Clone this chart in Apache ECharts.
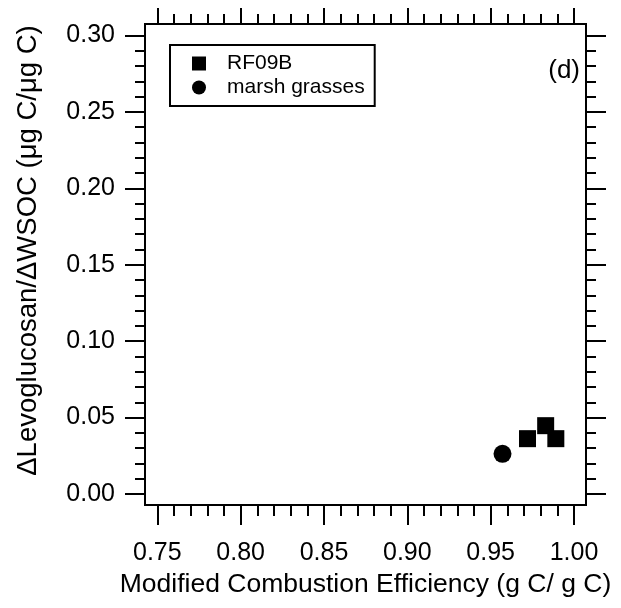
<!DOCTYPE html>
<html>
<head>
<meta charset="utf-8">
<script src="https://cdn.jsdelivr.net/npm/echarts@6/dist/echarts.min.js"></script>
<style>
  html, body { margin: 0; padding: 0; background: #fff; }
  #chart { width: 621px; height: 608px; }
</style>
</head>
<body>
<div id="chart"></div>
<script>
// data
const rf09bMce = [0.9721, 0.9830, 0.9891];
const rf09bRatio = [0.0362, 0.0447, 0.0362];
const marshMce = [0.9571];
const marshRatio = [0.0263];

// ticks
const xMajor = [0.75, 0.80, 0.85, 0.90, 0.95, 1.00];
const xMinor = [0.76, 0.77, 0.78, 0.79, 0.81, 0.82, 0.83, 0.84, 0.86, 0.87, 0.88, 0.89,
  0.91, 0.92, 0.93, 0.94, 0.96, 0.97, 0.98, 0.99];
const yMajor = [0.00, 0.05, 0.10, 0.15, 0.20, 0.25, 0.30];
const yMinor = [0.01, 0.02, 0.03, 0.04, 0.06, 0.07, 0.08, 0.09, 0.11, 0.12, 0.13, 0.14,
  0.16, 0.17, 0.18, 0.19, 0.21, 0.22, 0.23, 0.24, 0.26, 0.27, 0.28, 0.29];

const FONT = '"Liberation Sans", Arial, sans-serif';
const X_MIN = 0.7426, X_MAX = 1.0072;
const Y_MIN = -0.0072, Y_MAX = 0.3075;

const chart = echarts.init(document.getElementById('chart'), null, { renderer: 'canvas' });

// one axis per tick set (major/minor) and side, frame comes from the grid border
const makeAxis = (pos, min, max, ticks, len, labels) => ({
  type: 'value',
  position: pos,
  min: min,
  max: max,
  axisLine: { show: false, onZero: false },
  splitLine: { show: false },
  axisTick: {
    show: true,
    inside: false,
    length: len,
    customValues: ticks,
    lineStyle: { color: '#000', width: 2 }
  },
  axisLabel: labels ? {
    show: true,
    customValues: ticks,
    formatter: v => v.toFixed(2),
    color: '#000',
    fontSize: 25,
    fontFamily: FONT,
    margin: pos === 'bottom' ? 36 : 30
  } : { show: false }
});

const xBottom = makeAxis('bottom', X_MIN, X_MAX, xMajor, 20, true);
xBottom.name = 'Modified Combustion Efficiency (g C/ g C)';
xBottom.nameLocation = 'middle';
xBottom.nameGap = 60;
xBottom.nameTextStyle = { color: '#000', fontSize: 26.5, fontFamily: FONT };

const yLeft = makeAxis('left', Y_MIN, Y_MAX, yMajor, 20, true);
yLeft.name = 'ΔLevoglucosan/ΔWSOC (μg C/μg C)';
yLeft.nameLocation = 'middle';
yLeft.nameRotate = 90;
yLeft.nameGap = 103;
yLeft.nameTextStyle = { color: '#000', fontSize: 27.5, fontFamily: FONT, padding: [0, 0, 0, 28] };

const option = {
  animation: false,
  grid: {
    left: 145, top: 24, width: 441, height: 481,
    show: true, borderColor: '#000', borderWidth: 2
  },
  xAxis: [
    xBottom,
    makeAxis('bottom', X_MIN, X_MAX, xMinor, 11, false),
    makeAxis('top', X_MIN, X_MAX, xMajor, 16, false),
    makeAxis('top', X_MIN, X_MAX, xMinor, 10, false)
  ],
  yAxis: [
    yLeft,
    makeAxis('left', Y_MIN, Y_MAX, yMinor, 10, false),
    makeAxis('right', Y_MIN, Y_MAX, yMajor, 20, false),
    makeAxis('right', Y_MIN, Y_MAX, yMinor, 10, false)
  ],
  legend: {
    orient: 'vertical',
    left: 170,
    top: 45,
    borderColor: '#000',
    borderWidth: 2,
    borderRadius: 0,
    padding: [8, 10, 8, 22],
    itemWidth: 14,
    itemHeight: 14,
    itemGap: 3,
    textStyle: { color: '#000', fontSize: 21, fontFamily: FONT, lineHeight: 21, padding: [0, 0, 0, 16] },
    data: [
      { name: 'RF09B', icon: 'rect' },
      { name: 'marsh grasses', icon: 'circle' }
    ]
  },
  graphic: [{
    type: 'text',
    right: 41,
    top: 58,
    style: { text: '(d)', fill: '#000', font: '26px ' + FONT }
  }],
  series: [
    {
      name: 'RF09B',
      type: 'scatter',
      symbol: 'rect',
      symbolSize: 17,
      itemStyle: { color: '#000', opacity: 1 },
      data: rf09bMce.map((x, i) => [x, rf09bRatio[i]])
    },
    {
      name: 'marsh grasses',
      type: 'scatter',
      symbol: 'circle',
      symbolSize: 18,
      itemStyle: { color: '#000', opacity: 1 },
      data: marshMce.map((x, i) => [x, marshRatio[i]])
    }
  ]
};

chart.setOption(option);
// left-side ticks only showed up after the display list was refreshed once
chart.getZr().storage.getDisplayList(true);
chart.getZr().refreshImmediately();
</script>
</body>
</html>
